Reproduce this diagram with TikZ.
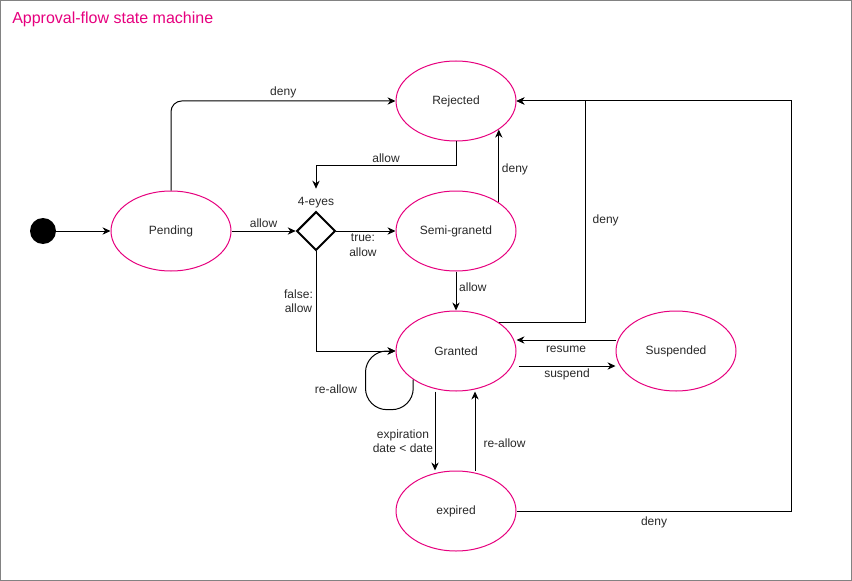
\documentclass[tikz,border=0pt]{standalone}
\usepackage{fontspec}
\setmainfont{Liberation Sans}
\usetikzlibrary{shapes.geometric,arrows.meta,calc}
\definecolor{statepink}{RGB}{230,0,126}
\definecolor{framegray}{RGB}{130,130,130}
\definecolor{labeltext}{RGB}{40,40,40}
\tikzset{
  state/.style={ellipse, draw=statepink, line width=0.75pt, minimum width=90pt,
    minimum height=60pt, inner sep=0pt, text=labeltext, font=\fontsize{9}{11}\selectfont},
  choice/.style={diamond, draw, line width=1.5pt, minimum size=29pt, inner sep=0pt},
  initial/.style={circle, fill=black, minimum size=19.5pt, inner sep=0pt},
  lbl/.style={text=labeltext, font=\fontsize{9}{11}\selectfont, align=center, inner sep=2pt},
  trans/.style={-{Stealth[length=6pt,width=5.5pt]}, line width=0.75pt}
}

\begin{document}
\begin{tikzpicture}[x=0.75pt,y=-0.75pt]
  \useasboundingbox (0,0) rectangle (852,581);
  \draw[framegray, line width=0.75pt] (0.5,0.5) rectangle (851.5,580.5);
  \node[anchor=west, inner sep=0pt, text=statepink, font=\fontsize{12}{14}\selectfont]
    (title) at (12,19) {Approval-flow state machine};

  \node[initial] (start) at (43,231) {};
  \node[state] (pending) at (171,231) {Pending};
  \node[choice, label={[lbl]above:4-eyes}] (eyes) at (316,231) {};
  \node[state] (rejected) at (456,101) {Rejected};
  \node[state] (semi) at (456,231) {Semi-granetd};
  \node[state] (granted) at (456,351) {Granted};
  \node[state] (suspended) at (676,351) {Suspended};
  \node[state] (expired) at (456,511) {expired};

  \path[trans]
  (start) edge (pending)
  (pending) edge node[lbl, above] {allow} (eyes)
  (eyes) edge node[lbl, below, pos=0.45] {true:\\allow} (semi)
  (semi) edge node[lbl, right, pos=0.4] {allow} (granted)
  (semi.north east) edge node[lbl, right, pos=0.45] {deny} (rejected.south east)
  ($(suspended.west)+(0,-11)$) edge node[lbl, below, yshift=-2pt] {resume} ($(granted.east)+(0,-11)$)
  ($(granted.east)+(2,15)$) edge node[lbl, below] {suspend} ($(suspended.west)+(0,15)$)
  ($(granted.south)+(-21,0)$) edge node[lbl, left, pos=0.63, inner sep=1pt] {expiration\\date < date} ($(expired.north)+(-21,0)$)
  ($(expired.north)+(19,0)$) edge node[lbl, right, pos=0.35, xshift=4pt] {re-allow} ($(granted.south)+(19,0)$);

  \draw[trans, rounded corners=8pt] (pending.north) |- node[lbl, above, pos=0.75] {deny} (rejected.west);
  \draw[trans] (rejected.south) -- ++(0,24) -| node[lbl, above, pos=0.25] {allow} ($(eyes.north)+(0,-22)$);
  \draw[trans] (eyes.south) |- node[lbl, left, pos=0.25] {false:\\allow} (granted.west);
  \draw[trans] (granted.north east) -| node[lbl, right, pos=0.73, xshift=3pt] {deny} ($(rejected.east)+(69,0)$) -- (rejected.east);
  \draw[trans] (expired.east) -| node[lbl, below, pos=0.25, yshift=-2pt] {deny} ($(rejected.east)+(275,0)$) -- (rejected.east);
  % self loop on granted
  \draw[trans, rounded corners=16pt] (granted.south west) -- ++(0,30)
    -| node[lbl, left, pos=0.67, xshift=-4pt] {re-allow} ($(granted.west)+(-30,0)$) -- (granted.west);
\end{tikzpicture}
\end{document}
